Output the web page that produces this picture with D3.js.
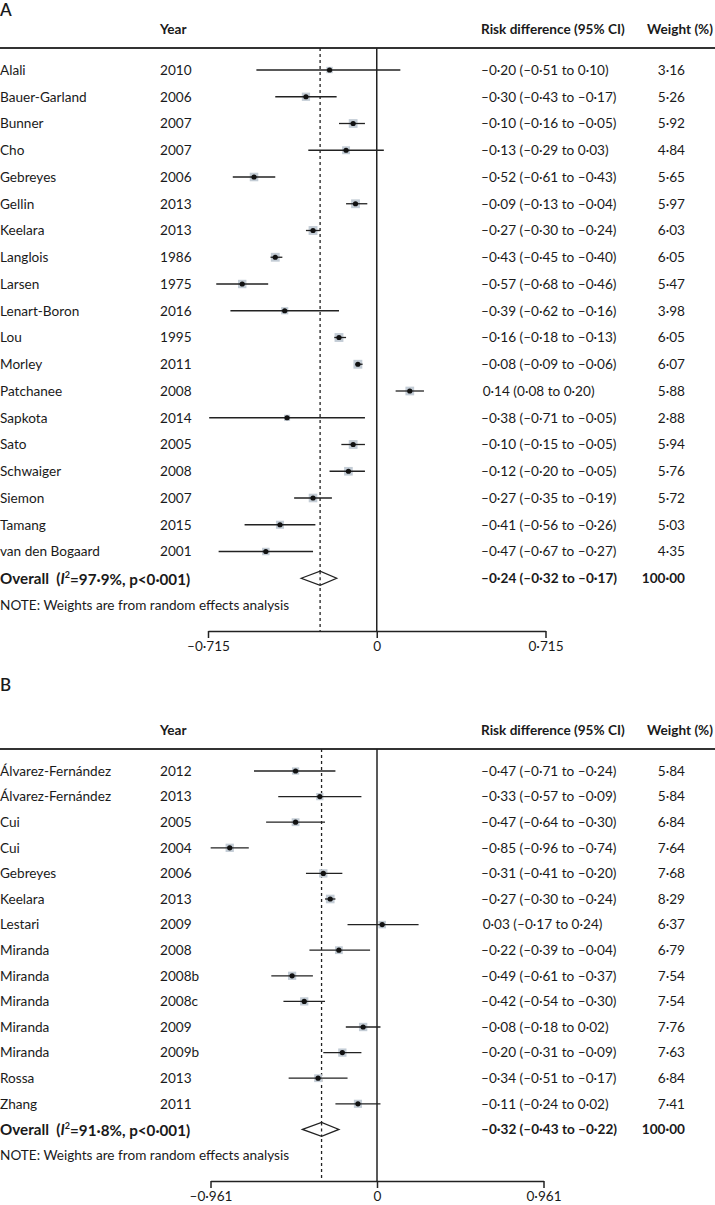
<!DOCTYPE html>
<html><head><meta charset="utf-8">
<script src="https://cdn.jsdelivr.net/npm/d3@7"></script>
<style>body{margin:0;background:#fff}svg{display:block}text{font-family:Lato,"Open Sans",sans-serif;fill:#1a1a1a}</style>
</head><body><svg id="c" width="715" height="1205"></svg>
<script>
// ---------- Panel A data ----------
const aStudies = ["Alali","Bauer-Garland","Bunner","Cho","Gebreyes","Gellin","Keelara","Langlois","Larsen","Lenart-Boron","Lou","Morley","Patchanee","Sapkota","Sato","Schwaiger","Siemon","Tamang","van den Bogaard"];
const aYears = ["2010","2006","2007","2007","2006","2013","2013","1986","1975","2016","1995","2011","2008","2014","2005","2008","2007","2015","2001"];
const aRD = [-0.20,-0.30,-0.10,-0.13,-0.52,-0.09,-0.27,-0.43,-0.57,-0.39,-0.16,-0.08,0.14,-0.38,-0.10,-0.12,-0.27,-0.41,-0.47];
const aLo = [-0.51,-0.43,-0.16,-0.29,-0.61,-0.13,-0.30,-0.45,-0.68,-0.62,-0.18,-0.09,0.08,-0.71,-0.15,-0.20,-0.35,-0.56,-0.67];
const aHi = [0.10,-0.17,-0.05,0.03,-0.43,-0.04,-0.24,-0.40,-0.46,-0.16,-0.13,-0.06,0.20,-0.05,-0.05,-0.05,-0.19,-0.26,-0.27];
const aWeights = ["3·16","5·26","5·92","4·84","5·65","5·97","6·03","6·05","5·47","3·98","6·05","6·07","5·88","2·88","5·94","5·76","5·72","5·03","4·35"];
const aOverall = [-0.24,-0.32,-0.17];
const aI2 = "97·9%";
const aTicks = [-0.715, 0, 0.715];

// ---------- Panel B data ----------
const bStudies = ["Álvarez-Fernández","Álvarez-Fernández","Cui","Cui","Gebreyes","Keelara","Lestari","Miranda","Miranda","Miranda","Miranda","Miranda","Rossa","Zhang"];
const bYears = ["2012","2013","2005","2004","2006","2013","2009","2008","2008b","2008c","2009","2009b","2013","2011"];
const bRD = [-0.47,-0.33,-0.47,-0.85,-0.31,-0.27,0.03,-0.22,-0.49,-0.42,-0.08,-0.20,-0.34,-0.11];
const bLo = [-0.71,-0.57,-0.64,-0.96,-0.41,-0.30,-0.17,-0.39,-0.61,-0.54,-0.18,-0.31,-0.51,-0.24];
const bHi = [-0.24,-0.09,-0.30,-0.74,-0.20,-0.24,0.24,-0.04,-0.37,-0.30,0.02,-0.09,-0.17,0.02];
const bWeights = ["5·84","5·84","6·84","7·64","7·68","8·29","6·37","6·79","7·54","7·54","7·76","7·63","6·84","7·41"];
const bOverall = [-0.32,-0.43,-0.22];
const bI2 = "91·8%";
const bTicks = [-0.961, 0, 0.961];

const FS = 13.6;
const svg = d3.select("#c");
const fmt = v => (v < 0 ? "–" : "") + Math.abs(v).toFixed(2).replace(".", "·");
const fmtTick = v => v === 0 ? "0" : (v < 0 ? "–" : "") + Math.abs(v).toFixed(3).replace(".", "·");
const rdText = (e, l, h) => (e >= 0 ? "\u2009" : "") + `${fmt(e)} (${fmt(l)} to ${fmt(h)})`;

function panel(o) {
  const g = svg.append("g");
  const n = o.studies.length;
  const y = d3.scalePoint().domain(d3.range(n + 2)).range([o.firstY, o.noteY]);
  const x = d3.scaleLinear().domain([o.ticks[0], o.ticks[2]]).range(o.xr);
  const ovY = y(n);

  g.append("text").attr("x", 0).attr("y", o.letterY).attr("font-size", 17).attr("font-weight", 600).text(o.letter);
  const hy = o.lineY - 14;
  g.append("text").attr("x", 160).attr("y", hy).attr("font-size", FS).attr("font-weight", 700).text("Year");
  g.append("text").attr("x", 481).attr("y", hy).attr("font-size", FS).attr("font-weight", 700).text("Risk difference (95% CI)");
  g.append("text").attr("x", 713).attr("y", hy).attr("text-anchor", "end").attr("font-size", FS).attr("font-weight", 700).text("Weight (%)");
  g.append("line").attr("x1", 0).attr("x2", 715).attr("y1", o.lineY).attr("y2", o.lineY).attr("stroke", "#333").attr("stroke-width", 1.8);

  // reference lines
  g.append("line").attr("x1", x(0)).attr("x2", x(0)).attr("y1", o.lineY).attr("y2", o.axisY).attr("stroke", "#222").attr("stroke-width", 1.5);
  g.append("line").attr("x1", x(o.overall[0])).attr("x2", x(o.overall[0])).attr("y1", o.lineY).attr("y2", o.axisY)
    .attr("stroke", "#222").attr("stroke-width", 1.3).attr("stroke-dasharray", "3,3");

  const rows = g.selectAll("g.row").data(d3.range(n)).join("g").attr("class", "row");
  rows.append("text").attr("x", 0).attr("y", i => y(i)).attr("dy", "0.36em").attr("font-size", FS).text(i => o.studies[i]);
  rows.append("text").attr("x", 160).attr("y", i => y(i)).attr("dy", "0.36em").attr("font-size", FS).text(i => o.years[i]);
  rows.append("text").attr("x", 481).attr("y", i => y(i)).attr("dy", "0.36em").attr("font-size", FS).text(i => rdText(o.rd[i], o.lo[i], o.hi[i]));
  rows.append("text").attr("x", 685).attr("y", i => y(i)).attr("dy", "0.36em").attr("text-anchor", "end").attr("font-size", FS).text(i => o.weights[i]);
  const side = i => o.sq * Math.sqrt(+o.weights[i].replace("·", "."));
  rows.append("rect").attr("fill", "#c3ccd5")
    .attr("width", side).attr("height", side)
    .attr("x", i => x(o.rd[i]) - side(i) / 2)
    .attr("y", i => y(i) - side(i) / 2);
  rows.append("line").attr("x1", i => x(o.lo[i])).attr("x2", i => x(o.hi[i])).attr("y1", i => y(i)).attr("y2", i => y(i))
    .attr("stroke", "#222").attr("stroke-width", 1.3);
  rows.append("circle").attr("cx", i => x(o.rd[i])).attr("cy", i => y(i)).attr("r", 2.6).attr("fill", "#111");

  // overall
  const ot = g.append("text").attr("x", 0).attr("y", ovY).attr("dy", "0.36em").attr("font-size", 15.2).attr("font-weight", 700);
  ot.append("tspan").text("Overall\u00a0\u00a0(");
  ot.append("tspan").attr("font-style", "italic").text("I");
  ot.append("tspan").attr("font-size", 9).attr("dy", "-0.6em").text("2");
  ot.append("tspan").attr("dy", "0.42em").text(`=${o.i2}, p<0·001)`);
  g.append("path").attr("d", `M${x(o.overall[1])},${ovY} L${x(o.overall[0])},${ovY - 7} L${x(o.overall[2])},${ovY} L${x(o.overall[0])},${ovY + 7} Z`)
    .attr("fill", "#fff").attr("stroke", "#222").attr("stroke-width", 1.3);
  g.append("line").attr("x1", x(o.overall[0])).attr("x2", x(o.overall[0])).attr("y1", ovY - 7).attr("y2", ovY + 7)
    .attr("stroke", "#222").attr("stroke-width", 1.3).attr("stroke-dasharray", "3,3");
  g.append("text").attr("x", 481).attr("y", ovY).attr("dy", "0.36em").attr("font-size", FS).attr("font-weight", 700)
    .text(rdText(o.overall[0], o.overall[1], o.overall[2]));
  g.append("text").attr("x", 685).attr("y", ovY).attr("dy", "0.36em").attr("text-anchor", "end").attr("font-size", FS).attr("font-weight", 700).text("100·00");
  g.append("text").attr("x", 0).attr("y", y(n + 1)).attr("dy", "0.36em").attr("font-size", FS).text("NOTE: Weights are from random effects analysis");

  // axis
  const ax = g.append("g").attr("transform", `translate(0,${o.axisY})`)
    .call(d3.axisBottom(x).tickValues(o.ticks).tickFormat(fmtTick).tickSize(7).tickSizeOuter(0));
  ax.select(".domain").attr("stroke", "#222").attr("stroke-width", 1.5);
  ax.selectAll(".tick line").attr("stroke", "#222").attr("stroke-width", 1.5);
  ax.selectAll(".tick text").attr("font-size", FS).attr("font-family", "Lato,'Open Sans',sans-serif").attr("fill", "#1a1a1a").attr("y", 10);
}

panel({letter: "A", letterY: 16, lineY: 48, firstY: 70, noteY: 605, axisY: 631, xr: [208, 545.5], ticks: aTicks,
  studies: aStudies, years: aYears, rd: aRD, lo: aLo, hi: aHi, weights: aWeights, overall: aOverall, i2: aI2, sq: 3.6});
panel({letter: "B", letterY: 691, lineY: 749, firstY: 771, noteY: 1155, axisY: 1181, xr: [210.5, 543.5], ticks: bTicks,
  studies: bStudies, years: bYears, rd: bRD, lo: bLo, hi: bHi, weights: bWeights, overall: bOverall, i2: bI2, sq: 3.0});
</script></body></html>
